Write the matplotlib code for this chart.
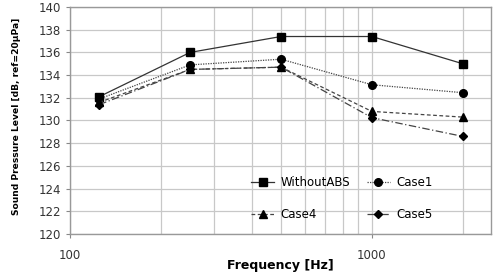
import matplotlib
matplotlib.use("Agg")
import matplotlib.pyplot as plt
from matplotlib.ticker import FixedLocator, NullFormatter, FixedFormatter

freqs = [125, 250, 500, 1000, 2000]
without_abs = [132.1, 136.0, 137.4, 137.4, 135.0]
case1 = [131.9, 134.9, 135.4, 133.15, 132.45]
case4 = [131.6, 134.5, 134.7, 130.8, 130.3]
case5 = [131.4, 134.5, 134.7, 130.25, 128.6]

fig = plt.figure(figsize=(4.96, 2.75), dpi=100)
ax = fig.add_axes([70/496, 1-234/275, (491-70)/496, (234-7)/275])

ax.plot(freqs, without_abs, color='#333333', lw=0.9, ls='-', marker='s', ms=5.5, mfc='black', mec='black', label='WithoutABS')
ax.plot(freqs, case1, color='#444444', lw=0.9, ls=(0, (1, 1)), marker='o', ms=5.5, mfc='black', mec='black', label='Case1')
ax.plot(freqs, case4, color='#444444', lw=0.9, ls=(0, (3, 2)), marker='^', ms=5.5, mfc='black', mec='black', label='Case4')
ax.plot(freqs, case5, color='#444444', lw=0.9, ls=(0, (6, 2, 1, 2)), marker='D', ms=4, mfc='black', mec='black', label='Case5')

ax.set_xscale('log')
ax.set_xlim(100, 2480)
ax.set_ylim(120, 140)
ax.set_yticks(range(120, 141, 2))
ax.xaxis.set_major_locator(FixedLocator([100, 1000]))
ax.xaxis.set_major_formatter(FixedFormatter(['100', '1000']))
ax.xaxis.set_minor_locator(FixedLocator([200, 300, 400, 500, 600, 700, 800, 900, 2000]))
ax.xaxis.set_minor_formatter(NullFormatter())

ax.grid(True, which='both', color='#c8c8c8', lw=0.9)
ax.set_axisbelow(True)
for s in ax.spines.values():
    s.set_color('#999999')
    s.set_linewidth(1.0)
ax.tick_params(axis='both', which='major', labelsize=8.5, colors='#333333', length=3, color='#888888')
ax.tick_params(axis='x', which='minor', length=0)
ax.tick_params(axis='x', which='major', pad=8)

ax.set_xlabel('Frequency [Hz]', fontsize=9, fontweight='bold')
ax.xaxis.set_label_coords(0.5, -31/227)
ax.xaxis.label.set_va('center')
ax.set_ylabel('Sound Pressure Level [dB, ref=20μPa]', fontsize=6.6, fontweight='bold')
ax.yaxis.set_label_coords((17-70)/421, (234-116)/227)
ax.yaxis.label.set_va('center')

handles, labels = ax.get_legend_handles_labels()
order = [0, 2, 1, 3]
leg = ax.legend([handles[i] for i in order], [labels[i] for i in order], ncol=2, frameon=False,
                loc='lower left', bbox_to_anchor=(0.41, 0.02), fontsize=8.5,
                handlelength=2.0, columnspacing=1.4, labelspacing=1.6, handletextpad=0.5,
                borderpad=0.2)

fig.savefig('out.png', dpi=100)
